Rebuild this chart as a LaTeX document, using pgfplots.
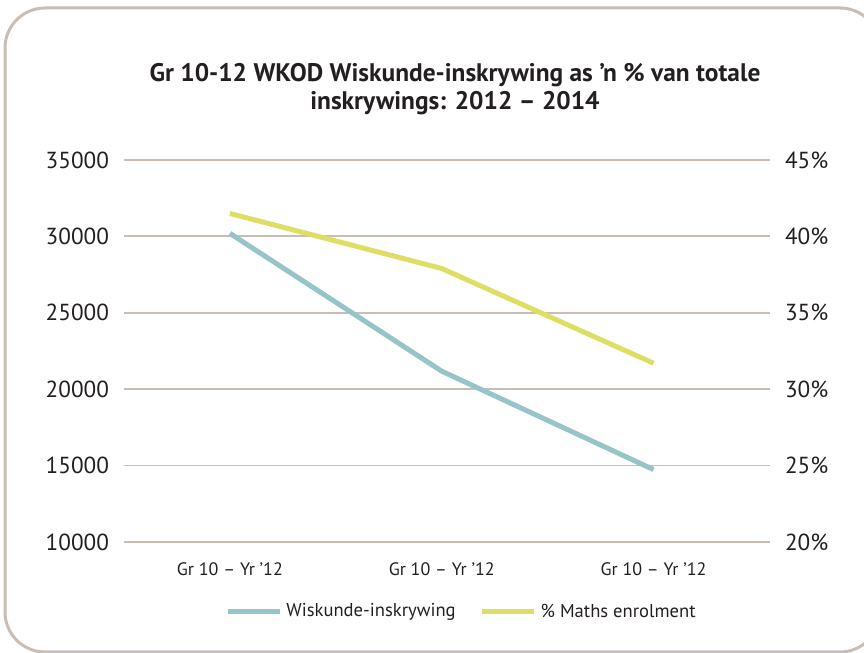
\documentclass[border=0pt]{standalone}
\usepackage{fontspec}
\setmainfont{PT Sans}
\usepackage{pgfplots}
\pgfplotsset{compat=1.18}
\definecolor{blueL}{RGB}{150,196,200}
\definecolor{yelL}{RGB}{222,222,100}
\definecolor{gridc}{RGB}{200,190,182}
\definecolor{txt}{RGB}{35,31,32}
\begin{document}
\begin{tikzpicture}[x=0.5pt,y=0.5pt]
\useasboundingbox (0,0) rectangle (864,653);
\clip (0,0) rectangle (864,653);
\draw[gridc, line width=1.5pt, rounded corners=20pt] (5,1) rectangle (880,645);
\node[font=\bfseries\fontsize{12.7}{14}\selectfont, align=center, text=txt] at (455,563.5) {Gr 10-12 WKOD Wiskunde-inskrywing as ’n \% van totale\\inskrywings: 2012 – 2014};
\begin{axis}[
  at={(62pt,55.5pt)}, anchor=south west, scale only axis,
  width=323pt, height=191pt,
  xmin=-0.5, xmax=2.55,
  xtick={0,1,2}, xticklabels={Gr 10 – Yr ’12, Gr 10 – Yr ’12, Gr 10 – Yr ’12},
  ymin=10000, ymax=35000, ytick={10000,15000,...,35000},
  ymajorgrids, grid style={gridc, line width=0.9pt},
  axis line style={draw=none}, tick style={draw=none},
  /pgf/number format/assume math mode=true,
  /pgf/number format/1000 sep={},
  scaled y ticks=false,
  yticklabel style={font=\fontsize{11.6}{13}\selectfont, text=txt, xshift=-4pt},
  xticklabel style={font=\fontsize{9}{11}\selectfont, text=txt, yshift=-7pt},
]
\addplot[blueL, line width=2.5pt] coordinates {(0,30200) (1,21180) (2,14740)};
\end{axis}
\begin{axis}[
  at={(62pt,55.5pt)}, anchor=south west, scale only axis,
  width=323pt, height=191pt,
  xmin=-0.5, xmax=2.55,
  axis x line=none, axis y line*=right,
  ymin=20, ymax=45, ytick={20,25,...,45},
  axis line style={draw=none}, tick style={draw=none},
  /pgf/number format/assume math mode=true,
  yticklabel={\pgfmathprintnumber{\tick}\%},
  yticklabel style={font=\fontsize{11.6}{13}\selectfont, text=txt, xshift=4pt},
  legend style={at={(0.524,-0.183)}, anchor=center, draw=none, fill=none,
    legend columns=2, font=\fontsize{9.3}{11}\selectfont, text=txt,
    /tikz/every even column/.append style={column sep=10pt}},
  legend image code/.code={\draw[#1, line width=2.5pt] (0pt,0pt) -- (26pt,0pt);},
]
\addlegendimage{blueL}
\addlegendentry{Wiskunde-inskrywing}
\addplot[yelL, line width=2.5pt] coordinates {(0,41.5) (1,37.9) (2,31.7)};
\addlegendentry{\% Maths enrolment}
\end{axis}
\end{tikzpicture}
\end{document}
